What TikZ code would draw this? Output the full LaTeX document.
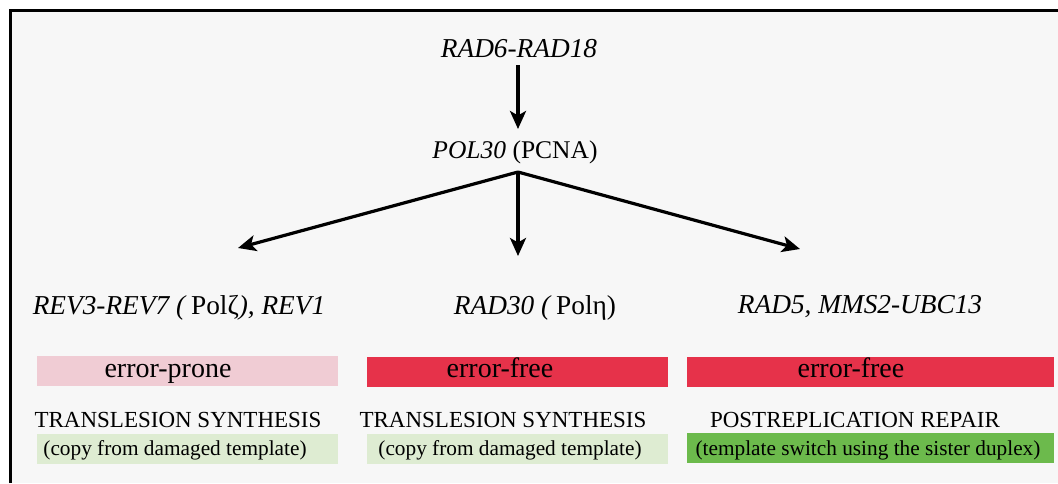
\documentclass[tikz,border=0pt]{standalone}
\usepackage{fontspec}
\setmainfont{Liberation Serif}
\usetikzlibrary{arrows.meta}
\definecolor{panelbg}{RGB}{247,247,247}
\definecolor{pronepink}{RGB}{240,204,212}
\definecolor{freered}{RGB}{230,50,74}
\definecolor{palegreen}{RGB}{222,236,210}
\definecolor{leafgreen}{RGB}{108,186,76}
\begin{document}
\begin{tikzpicture}[x=1pt,y=-1pt,
  gene/.style={inner sep=0pt,anchor=base,font=\fontsize{27.3}{30}\selectfont},
  bar/.style={draw=none,minimum width=301pt,minimum height=30pt,inner sep=0pt},
  bartext/.style={inner sep=0pt,anchor=base,font=\fontsize{28}{30}\selectfont},
  caps/.style={inner sep=0pt,anchor=base,font=\fontsize{23}{26}\selectfont},
  note/.style={inner sep=0pt,anchor=base,font=\fontsize{21.3}{24}\selectfont},
  flow/.style={line width=3.2pt,-{Stealth[length=18pt,width=16pt,inset=4.5pt]}}]
% canvas and frame
\useasboundingbox (0,0) rectangle (1058,483);
\fill[white] (0,0) rectangle (1058,483);
\fill[panelbg] (10.5,10.5) rectangle (1058,483);
\draw[line width=3pt] (10.5,483) -- (10.5,10.5) -- (1058,10.5);

% top of the pathway
\node[gene] (rad6) at (519,57) {\textit{RAD6-RAD18}};
\node[gene,font=\fontsize{25.5}{30}\selectfont] (pol30) at (515,158) {\textit{POL30} (PCNA)};
\coordinate (top1) at (518,65);
\coordinate (fork) at (518,172);
\coordinate (tipL) at (238,248);
\coordinate (tipM) at (518,256);
\coordinate (tipR) at (800,249);
\draw[flow] (top1) -- (518,129);
\draw[flow] (fork) -- (tipL);
\draw[flow] (fork) -- (tipM);
\draw[flow] (fork) -- (tipR);

% three branches
\node[gene] (rev) at (179,314) {\textit{REV3-REV7 (}\,Polζ\textit{), REV1}};
\node[gene] (rad30) at (535,314) {\textit{RAD30 (}\,Polη)};
\node[gene] (rad5) at (860,313) {\textit{RAD5, MMS2-UBC13}};

% fidelity bars
\node[bar,fill=pronepink] (barL) at (187.5,371) {};
\node[bar,fill=freered] (barM) at (517.5,372) {};
\node[bar,fill=freered,minimum width=367pt] (barR) at (870.5,372) {};
\node[bartext] (proneL) at (168,377) {error-prone};
\node[bartext] (freeM) at (500,377) {error-free};
\node[bartext] (freeR) at (851,377) {error-free};

% mechanism headings
\node[caps] (tlsL) at (178,427) {TRANSLESION SYNTHESIS};
\node[caps] (tlsM) at (503,427) {TRANSLESION SYNTHESIS};
\node[caps] (prr) at (855,427) {POSTREPLICATION REPAIR};

% mechanism notes
\node[bar,fill=palegreen] (noteBarL) at (187.5,448.5) {};
\node[bar,fill=palegreen] (noteBarM) at (517.5,448.5) {};
\node[bar,fill=leafgreen,minimum width=367pt] (noteBarR) at (870.5,447.5) {};
\node[note] (copyL) at (175,455) {(copy from damaged template)};
\node[note] (copyM) at (510,455) {(copy from damaged template)};
\node[note] (switch) at (868,455) {(template switch using the sister duplex)};
\end{tikzpicture}
\end{document}
